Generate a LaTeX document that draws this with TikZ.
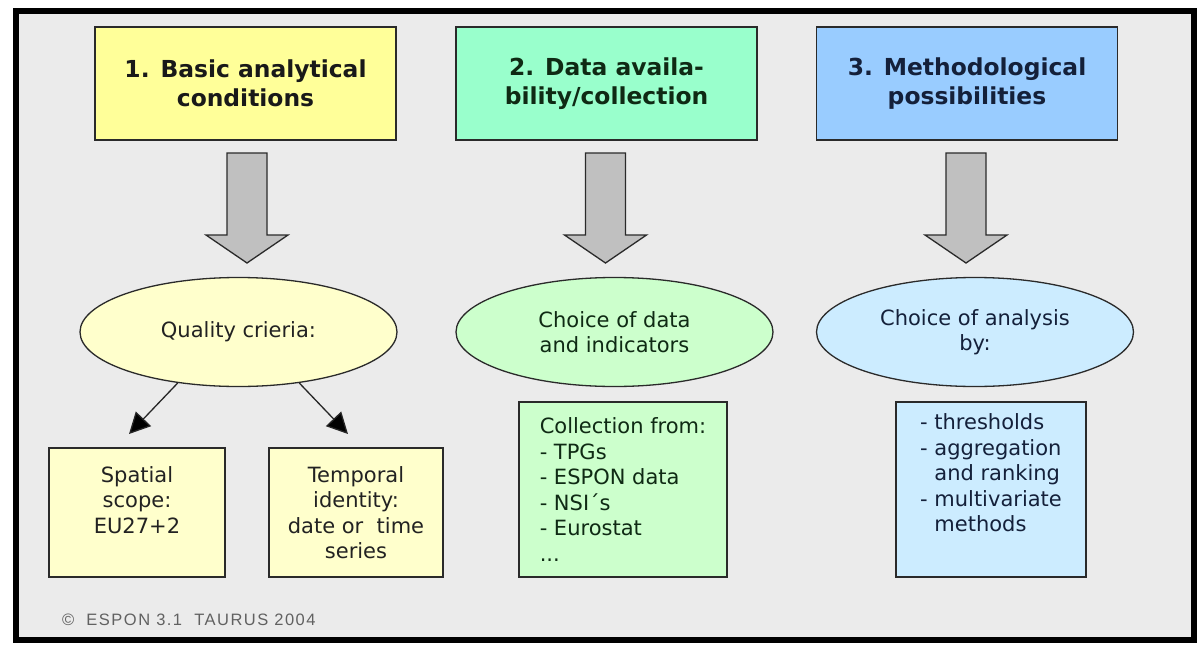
\documentclass[tikz,border=0pt]{standalone}
\usepackage{fontspec}
\setmainfont{DejaVu Sans}
\newfontfamily\cpfont{Liberation Sans}[LetterSpace=9]
\usetikzlibrary{shapes.geometric,arrows.meta}
\definecolor{bgc}{HTML}{EBEBEB}
\definecolor{yTop}{HTML}{FFFF99}
\definecolor{gTop}{HTML}{99FFCC}
\definecolor{bTop}{HTML}{99CCFF}
\definecolor{yLow}{HTML}{FFFFCC}
\definecolor{gLow}{HTML}{CCFFCC}
\definecolor{bLow}{HTML}{CCECFF}
\definecolor{edgec}{HTML}{2A2A2A}
\definecolor{txtc}{HTML}{222222}
\definecolor{gtxt}{HTML}{0F2A14}
\definecolor{btxt}{HTML}{14203A}
\definecolor{arrc}{HTML}{C0C0C0}
\tikzset{
  titlebox/.style={draw=edgec, line width=1.3pt, minimum width=301pt, minimum height=113pt,
    inner sep=0pt, align=center, font=\fontsize{23.4}{29}\selectfont\bfseries},
  oval/.style={ellipse, draw=edgec, line width=1.3pt, minimum width=317pt, minimum height=109pt,
    inner sep=0pt, align=center, font=\fontsize{21}{25.5}\selectfont, text=txtc},
  lowbox/.style={draw=edgec, line width=1.3pt, inner sep=0pt,
    font=\fontsize{21}{25.5}\selectfont, text=txtc},
  smallarrow/.style={line width=1.3pt, draw=black!85, -{Triangle[length=21pt,width=21pt,fill=black]}},
  barrow/.pic={\draw[fill=arrc, draw=edgec, line width=1.3pt]
     (-20,0) -- (20,0) -- (20,82) -- (41,82) -- (0,110) -- (-41,82) -- (-20,82) -- cycle;}
}
\begin{document}
\begin{tikzpicture}[x=1pt,y=-1pt]
\useasboundingbox (0,0) rectangle (1202,645);
\fill[white] (0,0) rectangle (1202,645);
\draw[line width=6pt, fill=bgc] (16,11) rectangle (1194,640);

% top boxes
\node[titlebox, fill=yTop, text=black!90] (b1) at (245.5,83.5) {1. Basic analytical\\conditions};
\node[titlebox, fill=gTop, text=gtxt] (b2) at (606.5,83.5) {2. Data availa-\\bility/collection};
\node[titlebox, fill=bTop, text=btxt] (b3) at (967,83.5) {3. Methodological\\possibilities};

% block arrows
\pic at (247,153) {barrow};
\pic at (605.5,153) {barrow};
\pic at (966,153) {barrow};

% ellipses
\node[oval, fill=yLow] (e1) at (238.5,332) {Quality crieria:};
\node[oval, fill=gLow, text=gtxt] (e2) at (614.5,332) {Choice of data\\and indicators};
\node[oval, fill=bLow, text=btxt] (e3) at (975,332) {Choice of analysis\\by:};

% lower boxes
\node[lowbox, fill=yLow, minimum width=176pt, minimum height=129pt, align=center] (sp) at (137,512.5)
  {Spatial\\scope:\\EU27+2\\\mbox{}};
\node[lowbox, fill=yLow, minimum width=174pt, minimum height=129pt, align=center] (tp) at (356,512.5)
  {Temporal\\identity:\\date or\ \ time\\series};
\node[lowbox, fill=gLow, text=gtxt, minimum width=208pt, minimum height=175pt, align=left] (co) at (623,489.5)
  {Collection from:\\- TPGs\\- ESPON data\\- NSI´s\\- Eurostat\\...};
\node[lowbox, fill=bLow, text=btxt, minimum width=190pt, minimum height=175pt, align=left] (th) at (991,489.5)
  {- thresholds\\- aggregation\\\phantom{- }and ranking\\- multivariate\\\phantom{- }methods\\\strut};

% small arrows
\coordinate (a1) at (129,434);
\coordinate (a2) at (348,434);
\draw[smallarrow] (e1.220) -- (a1);
\draw[smallarrow] (e1.320) -- (a2);

% copyright
\node[anchor=west, font=\cpfont\fontsize{16.5}{19}\selectfont, text=black!62, inner sep=0pt] (cp) at (62,620)
  {©\ \ ESPON 3.1\ \ TAURUS 2004};
\end{tikzpicture}
\end{document}
